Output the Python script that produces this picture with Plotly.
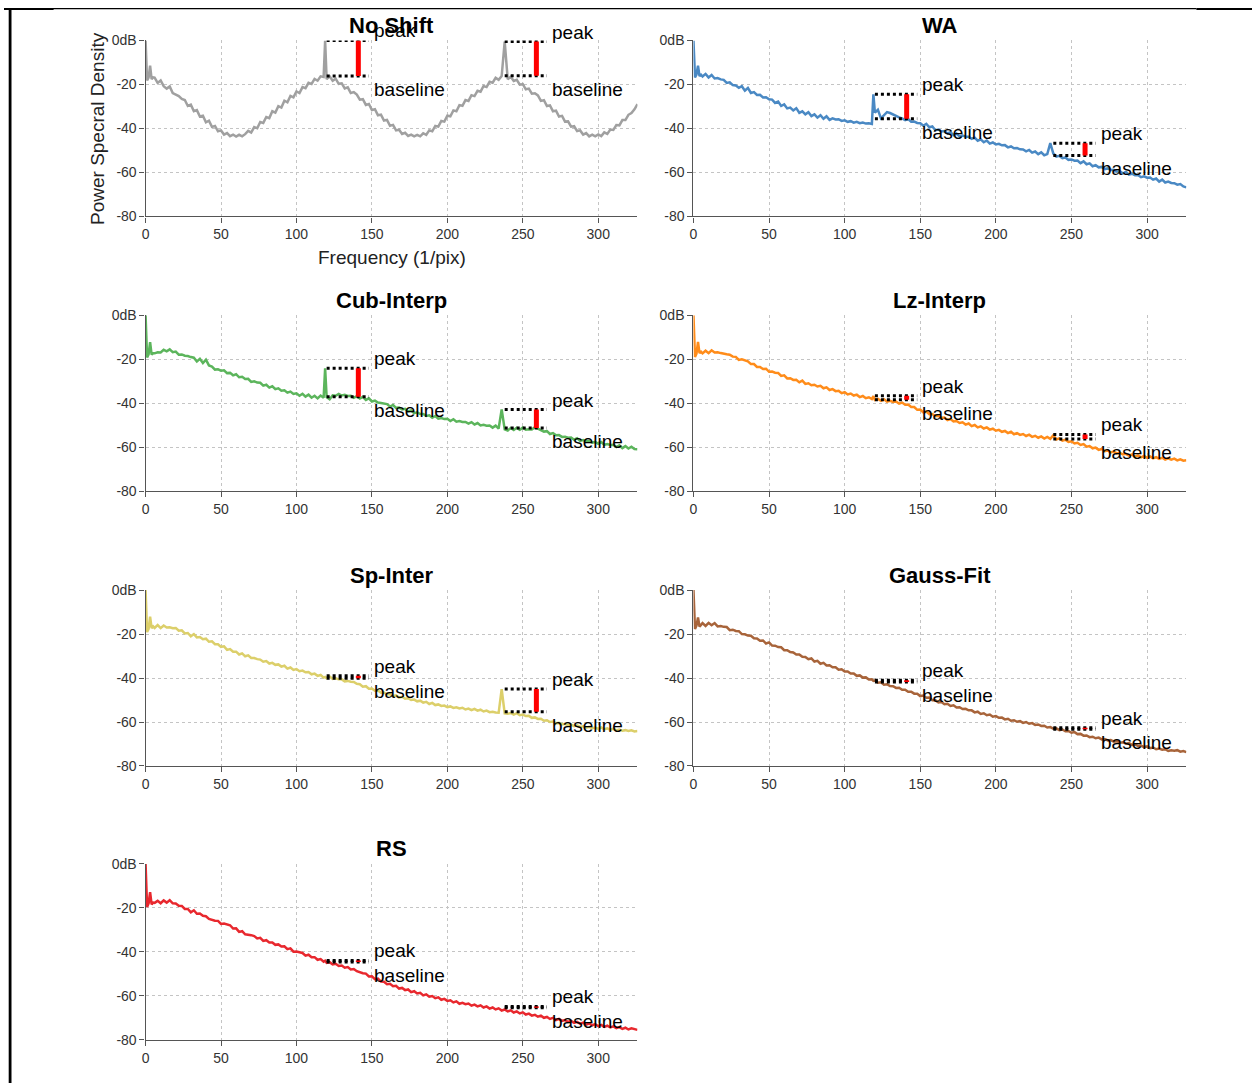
import plotly.graph_objects as go

W, H = 1252, 1091
# measured capture mapping (page px = A + S * figure px); used to place elements at target page px
AX, SX = 3.4, 0.997
AY, SY = 7.5, 0.986

# ---------------- data ----------------
FREQ = [0, 1, 2, 3, 4, 5] + list(range(6, 119, 2)) + [119] + list(range(120, 327, 2))

no_shift = [
    0, -18.2, -16.9, -11.5, -17.6, -16.8,
    -16.9, -19.3, -18.2, -20.8, -21.9, -20.9, -23.9, -24.5, -25.3, -26.6,
    -27.1, -29.8, -29.2, -32.2, -31.7, -34.6, -34.2, -37.2, -36.5, -39.3,
    -38.9, -41.3, -40.9, -42.8, -42.1, -43.5, -42.8, -43.7, -42.9, -43.6,
    -42.6, -41.1, -41.9, -39.4, -39.9, -37.1, -37.5, -34.8, -35.3, -32.2,
    -32.8, -29.9, -30.5, -27.4, -28.1, -25.2, -25.9, -23.2, -23.9, -21.2,
    -21.7, -19.3, -19.8, -17.5, -18.3, -16.3, -16.6, 0.0,
    -17.6, -16.3, -18.3, -17.4, -19.7, -19.5, -21.8, -21.3, -23.9, -23.5,
    -24.6, -26.9, -26.7, -29.3, -28.9, -31.6, -31.3, -34.0, -33.7, -36.4,
    -36.1, -38.8, -38.4, -40.9, -40.6, -42.5, -42.0, -43.4, -42.8, -43.6,
    -42.9, -43.6, -42.2, -42.9, -40.9, -41.3, -38.9, -39.2, -36.6, -36.9,
    -34.2, -34.5, -31.8, -32.2, -29.4, -29.7, -27.1, -27.5, -24.9, -25.3,
    -22.9, -23.3, -20.7, -21.2, -18.8, -19.2, -17.0, -17.9, -16.2, -0.5,
    -17.6, -16.5, -18.4, -17.9, -20.1, -19.9, -22.2, -21.9, -24.2, -24.0,
    -25.0, -27.5, -27.2, -29.8, -29.5, -32.2, -31.9, -34.6, -34.3, -36.9,
    -36.8, -39.2, -39.0, -41.2, -40.9, -42.8, -42.1, -43.6, -42.8, -43.6,
    -42.7, -43.5, -41.8, -42.5, -40.5, -40.7, -38.5, -38.6, -36.2, -36.2,
    -33.8, -33.0, -31.3, -29.0,
]

wa = [
    0, -16.8, -15.5, -11.5, -16.2, -15.6,
    -16.4, -15.2, -16.8, -15.7, -17.3, -17.1, -17.7, -17.9, -19.3, -19.0,
    -20.3, -20.5, -21.5, -20.8, -22.8, -21.6, -23.9, -23.5, -24.8, -24.7,
    -25.9, -25.8, -26.7, -26.9, -28.4, -27.8, -29.8, -29.1, -30.9, -30.5,
    -31.8, -30.8, -32.9, -32.2, -33.6, -32.6, -34.4, -33.6, -35.1, -34.0,
    -35.6, -34.5, -36.1, -35.4, -35.9, -35.8, -36.6, -36.3, -37.0, -36.7,
    -37.4, -37.0, -37.6, -37.3, -37.8, -37.7, -38.0, -24.5,
    -32.8, -31.5, -35.4, -33.8, -32.6, -33.0, -33.7, -34.3, -35.0, -35.4,
    -36.2, -35.7, -37.0, -36.9, -37.5, -37.6, -38.8, -37.9, -39.5, -39.1,
    -40.8, -40.5, -41.4, -41.2, -42.3, -41.7, -43.1, -42.3, -43.6, -43.2,
    -43.8, -43.8, -44.7, -44.2, -45.6, -45.0, -46.3, -45.5, -46.9, -46.4,
    -47.3, -47.0, -47.7, -47.6, -48.6, -48.2, -49.0, -48.9, -49.5, -49.6,
    -50.4, -49.8, -51.0, -50.5, -51.7, -50.9, -52.2, -51.7, -46.7, -51.4,
    -52.8, -52.5, -53.5, -53.2, -54.3, -54.1, -54.7, -54.6, -55.8, -55.0,
    -56.3, -55.9, -57.2, -56.7, -57.7, -57.5, -58.5, -58.2, -58.9, -58.8,
    -59.7, -59.4, -60.5, -59.7, -61.0, -60.6, -61.3, -61.2, -62.2, -61.8,
    -62.4, -62.3, -63.3, -62.8, -64.2, -63.3, -64.6, -64.2, -64.8, -64.9,
    -65.6, -65.3, -66.4, -66.8,
]

cub_interp = [
    0, -19.2, -17.8, -12.2, -17.9, -17.3,
    -17.3, -16.8, -16.9, -15.7, -16.4, -15.5, -16.8, -16.5, -17.9, -17.8,
    -18.4, -18.5, -19.0, -19.3, -21.0, -19.8, -21.7, -20.2, -22.8, -23.3,
    -24.7, -24.6, -25.2, -25.0, -26.3, -26.2, -27.3, -26.8, -28.2, -28.0,
    -29.0, -28.9, -30.3, -30.0, -30.6, -30.7, -32.0, -31.6, -32.9, -32.3,
    -33.6, -33.2, -34.3, -34.1, -35.2, -34.7, -35.8, -35.5, -36.6, -35.7,
    -37.0, -36.1, -37.5, -36.6, -37.8, -36.5, -37.5, -24.1,
    -37.2, -38.2, -36.4, -36.6, -35.8, -36.5, -36.2, -36.7, -36.6, -37.5,
    -36.8, -37.9, -37.1, -38.5, -37.8, -39.2, -38.8, -39.7, -39.9, -40.3,
    -40.4, -41.5, -40.8, -42.1, -42.0, -42.8, -42.5, -43.7, -43.3, -44.5,
    -44.1, -44.9, -44.9, -45.8, -45.5, -46.6, -45.8, -47.0, -46.7, -47.2,
    -47.1, -48.1, -47.3, -48.4, -48.1, -48.5, -48.5, -49.3, -48.6, -49.7,
    -49.0, -50.1, -49.8, -50.2, -50.1, -51.1, -50.2, -51.5, -42.8, -51.9,
    -52.4, -51.3, -52.2, -51.2, -52.1, -51.1, -52.0, -51.8, -51.9, -50.9,
    -51.6, -52.0, -52.9, -52.7, -54.0, -53.6, -54.6, -54.5, -55.3, -55.2,
    -55.7, -55.6, -56.6, -55.9, -57.1, -56.7, -57.2, -57.2, -57.9, -57.6,
    -58.5, -57.7, -58.9, -58.6, -59.0, -58.9, -59.9, -59.1, -60.4, -59.5,
    -60.6, -59.8, -60.8, -60.9,
]

lz_interp = [
    0, -19.0, -17.5, -12.1, -17.2, -16.6,
    -17.3, -16.1, -17.2, -15.9, -16.9, -16.8, -17.2, -17.3, -17.7, -17.9,
    -18.8, -18.9, -20.3, -20.0, -20.5, -20.9, -22.2, -22.2, -23.5, -23.5,
    -24.4, -24.3, -25.7, -25.6, -26.1, -26.2, -27.6, -27.3, -28.7, -28.6,
    -29.4, -29.3, -30.5, -29.7, -31.2, -30.9, -31.8, -31.6, -32.4, -32.1,
    -33.2, -32.8, -34.0, -33.6, -34.5, -34.3, -35.4, -35.0, -36.0, -35.6,
    -36.5, -36.1, -37.2, -36.7, -37.7, -37.3, -38.1, -36.8,
    -38.5, -38.0, -38.9, -38.2, -39.3, -38.9, -39.4, -39.2, -40.2, -39.7,
    -40.7, -40.6, -41.7, -41.7, -43.0, -42.9, -44.2, -43.8, -45.0, -44.9,
    -45.9, -45.7, -46.6, -46.5, -47.7, -47.2, -48.3, -48.1, -49.0, -48.7,
    -49.7, -49.2, -50.4, -49.9, -51.0, -50.5, -51.5, -51.0, -52.0, -51.6,
    -52.5, -52.1, -53.0, -52.6, -53.6, -53.0, -54.1, -53.6, -54.4, -54.0,
    -54.9, -54.3, -55.3, -54.8, -55.7, -55.1, -56.1, -55.3, -56.2, -54.6,
    -56.5, -56.0, -57.0, -56.6, -57.6, -57.3, -58.3, -58.0, -59.0, -58.6,
    -59.8, -59.5, -60.5, -60.2, -61.2, -60.8, -61.8, -61.5, -62.4, -62.0,
    -62.8, -62.5, -63.3, -63.0, -63.8, -63.3, -64.3, -63.7, -64.6, -64.0,
    -64.8, -64.2, -65.1, -64.5, -65.3, -64.8, -65.6, -65.1, -65.7, -65.2,
    -66.0, -65.5, -66.1, -65.9,
]

sp_inter = [
    0, -19.1, -17.6, -12.1, -17.3, -16.5,
    -17.2, -15.9, -17.3, -16.1, -17.0, -16.9, -17.3, -17.2, -18.5, -18.3,
    -19.7, -19.5, -21.0, -20.0, -21.5, -21.3, -22.3, -22.1, -23.5, -23.3,
    -24.6, -24.6, -25.8, -25.6, -27.2, -26.8, -28.0, -28.0, -29.3, -28.8,
    -30.1, -29.7, -30.9, -30.9, -31.4, -31.6, -32.6, -32.3, -33.4, -33.1,
    -34.0, -33.8, -34.8, -34.4, -35.7, -35.2, -36.3, -35.9, -36.9, -36.6,
    -37.4, -37.3, -38.3, -38.0, -39.0, -38.6, -39.8, -39.5,
    -40.1, -39.3, -40.4, -40.1, -40.6, -40.6, -41.5, -41.3, -41.7, -41.8,
    -42.6, -42.8, -43.9, -43.7, -44.9, -44.8, -45.8, -45.7, -46.7, -46.6,
    -47.5, -47.3, -48.2, -47.9, -48.9, -48.5, -49.4, -49.2, -50.0, -49.8,
    -50.6, -50.3, -51.2, -50.8, -51.8, -51.3, -52.3, -52.0, -52.7, -52.5,
    -53.2, -52.9, -53.6, -53.3, -53.8, -53.5, -54.3, -53.9, -54.6, -54.0,
    -54.8, -54.4, -55.2, -54.8, -55.5, -55.3, -55.7, -55.8, -45.0, -56.1,
    -56.2, -55.9, -56.6, -56.0, -56.9, -56.6, -57.3, -57.2, -58.1, -57.9,
    -58.6, -58.5, -59.4, -59.2, -60.0, -59.8, -60.6, -60.4, -61.1, -60.8,
    -61.4, -61.2, -61.9, -61.5, -62.2, -61.9, -62.6, -62.2, -62.8, -62.5,
    -63.1, -62.5, -63.3, -62.9, -63.6, -63.0, -63.8, -63.4, -64.0, -63.7,
    -64.1, -63.8, -64.3, -64.1,
]

gauss_fit = [
    0, -17.7, -16.2, -12.4, -16.6, -15.8,
    -15.0, -16.3, -14.9, -16.0, -15.0, -16.5, -16.3, -16.7, -16.8, -18.2,
    -18.0, -18.6, -18.7, -20.0, -20.1, -20.7, -20.8, -21.9, -22.0, -23.0,
    -22.9, -24.3, -23.8, -25.2, -25.3, -25.9, -26.0, -27.3, -27.3, -28.2,
    -28.4, -29.3, -29.3, -30.3, -30.4, -31.4, -31.1, -32.5, -32.2, -33.5,
    -33.1, -34.3, -34.2, -35.1, -35.1, -36.2, -36.0, -37.0, -37.0, -37.9,
    -37.9, -39.0, -38.8, -39.8, -39.7, -40.7, -40.6, -41.3,
    -41.1, -42.1, -41.9, -43.0, -42.8, -43.6, -43.7, -44.5, -44.4, -45.3,
    -45.3, -46.2, -46.2, -47.1, -47.1, -48.2, -48.0, -49.0, -48.9, -50.1,
    -50.1, -51.1, -50.9, -51.9, -51.7, -52.7, -52.4, -53.4, -53.3, -54.1,
    -54.0, -54.7, -54.7, -55.6, -55.3, -56.3, -56.0, -56.9, -56.6, -57.6,
    -57.3, -58.1, -58.0, -58.8, -58.5, -59.4, -59.2, -59.9, -59.6, -60.4,
    -60.0, -60.8, -60.5, -61.3, -61.1, -61.8, -61.7, -62.5, -62.3, -63.0,
    -62.9, -63.7, -63.4, -64.2, -64.1, -64.9, -64.6, -65.5, -65.4, -66.2,
    -66.1, -66.9, -66.7, -67.4, -67.1, -67.9, -67.7, -68.4, -68.2, -68.9,
    -68.7, -69.4, -69.2, -69.9, -69.6, -70.4, -70.2, -70.9, -70.7, -71.4,
    -71.1, -71.9, -71.6, -72.4, -72.1, -72.6, -72.4, -73.2, -72.9, -73.1,
    -72.8, -73.5, -73.2, -73.7,
]

rs = [
    0, -19.6, -18.0, -12.8, -18.4, -17.6,
    -17.7, -16.8, -17.9, -16.6, -17.6, -16.5, -17.9, -18.0, -19.0, -19.1,
    -20.5, -20.5, -22.0, -21.1, -22.7, -22.6, -23.6, -23.8, -25.0, -25.5,
    -25.8, -25.9, -27.3, -27.1, -27.5, -27.9, -29.4, -29.3, -30.9, -30.6,
    -32.0, -32.1, -32.4, -32.8, -33.9, -33.6, -35.0, -34.7, -35.7, -35.7,
    -36.8, -36.6, -37.6, -37.5, -38.8, -38.4, -39.9, -39.8, -40.0, -40.5,
    -41.7, -41.3, -42.4, -42.4, -43.6, -43.3, -44.5, -44.0,
    -45.0, -44.7, -45.7, -45.4, -46.4, -46.2, -47.2, -46.9, -48.0, -47.8,
    -48.8, -49.3, -49.7, -49.9, -51.2, -51.1, -52.4, -52.2, -53.5, -53.6,
    -54.7, -54.5, -55.6, -55.4, -56.7, -56.4, -57.4, -57.1, -58.3, -57.9,
    -58.9, -58.6, -59.8, -59.3, -60.4, -60.1, -61.1, -60.7, -61.8, -61.4,
    -62.3, -62.0, -63.0, -62.5, -63.6, -63.2, -63.8, -63.5, -64.5, -64.0,
    -64.8, -64.3, -65.3, -64.8, -65.8, -65.3, -66.2, -65.7, -66.7, -66.2,
    -67.1, -66.6, -67.6, -67.1, -68.0, -67.5, -68.5, -68.1, -69.0, -68.6,
    -69.5, -69.0, -70.0, -69.6, -70.5, -70.0, -71.0, -70.5, -71.4, -71.0,
    -71.9, -71.4, -72.3, -71.8, -72.7, -72.2, -73.1, -72.6, -73.4, -72.9,
    -73.8, -73.2, -74.1, -73.6, -74.4, -73.9, -74.7, -74.2, -75.0, -74.5,
    -75.3, -74.8, -75.2, -75.5,
]

TITLES = ["No Shift", "WA", "Cub-Interp", "Lz-Interp", "Sp-Inter", "Gauss-Fit", "RS"]
SERIES = [no_shift, wa, cub_interp, lz_interp, sp_inter, gauss_fit, rs]

# peak / baseline levels (dB) for the two harmonics of each method
PEAK_1 = [0.0, -24.5, -24.1, -36.6, -39.0, -41.0, -43.9]
BASE_1 = [-16.2, -35.6, -37.0, -38.4, -40.1, -41.8, -44.6]
PEAK_2 = [-0.5, -46.7, -42.9, -54.2, -45.0, -62.6, -64.8]
BASE_2 = [-16.0, -52.3, -51.3, -56.3, -55.3, -63.3, -65.4]

X_TICKS = [0, 50, 100, 150, 200, 250, 300]
Y_TICKS = [-80, -60, -40, -20, 0]
Y_TICK_TEXT = ["-80", "-60", "-40", "-20", "0dB"]

for s in SERIES:
    assert len(s) == len(FREQ), (len(s), len(FREQ))

# ---------------- styling ----------------
COLORS = ["#a0a0a0", "#4a89c4", "#5cb55c", "#ff8c1a", "#dccf6a", "#a8643a", "#e8282e"]
FONT = "Liberation Sans, Arial, Helvetica, sans-serif"

# target positions in page pixels
COL_PX = [(145, 637), (693, 1186)]
ROW_PX = [(40, 216), (315, 491), (590, 766), (864, 1040)]
BOX1 = (120, 148, 141)
BOX2 = (238, 266, 259)


def px_x(p):
    return ((p - AX) / SX) / W


def px_y(p):
    return 1 - ((p - AY) / SY) / H


fig = go.Figure()
layout = dict(
    width=W, height=H, margin=dict(l=0, r=0, t=0, b=0),
    paper_bgcolor="white", plot_bgcolor="white", showlegend=False,
    font=dict(family=FONT, color="#222"),
)
shapes = []
annotations = []

for i, (title, vals) in enumerate(zip(TITLES, SERIES)):
    r, c = divmod(i, 2)
    n = "" if i == 0 else str(i + 1)
    xa, ya = "x" + n, "y" + n
    x0p, x1p = COL_PX[c]
    t_px, b_px = ROW_PX[r]
    layout["xaxis" + n] = dict(
        domain=[px_x(x0p), px_x(x1p)], range=[0, 326], anchor=ya,
        tickvals=X_TICKS, showline=True, linecolor="#555", linewidth=1.3,
        ticks="outside", ticklen=5, tickcolor="#555",
        showgrid=True, gridcolor="#c4c4c4", griddash="dot", gridwidth=1,
        zeroline=False, tickfont=dict(size=14, color="#333"),
    )
    layout["yaxis" + n] = dict(
        domain=[px_y(b_px), px_y(t_px)], range=[-80, 0], anchor=xa,
        tickvals=Y_TICKS, ticktext=Y_TICK_TEXT, showline=True, linecolor="#555",
        linewidth=1.3, ticks="outside", ticklen=5, tickcolor="#555",
        showgrid=True, gridcolor="#c4c4c4", griddash="dot", gridwidth=1,
        zeroline=False, tickfont=dict(size=14, color="#333"),
    )
    fig.add_trace(go.Scatter(x=FREQ, y=vals, mode="lines", xaxis=xa, yaxis=ya,
                             line=dict(color=COLORS[i], width=2.5)))

    for (bx0, bx1, bxr), pk, bs in [(BOX1, PEAK_1[i], BASE_1[i]), (BOX2, PEAK_2[i], BASE_2[i])]:
        for lvl in (pk, bs):
            fig.add_trace(go.Scatter(x=[bx0, bx1], y=[lvl, lvl], mode="lines", xaxis=xa, yaxis=ya,
                                     line=dict(color="black", width=3, dash="dot")))
        fig.add_trace(go.Scatter(x=[bxr, bxr], y=[bs, pk], mode="lines", xaxis=xa, yaxis=ya,
                                 line=dict(color="#ff0000", width=5)))
        annotations.append(dict(x=bx1 + 2, y=pk, xref=xa, yref=ya, text="peak", showarrow=False,
                                xanchor="left", yanchor="middle", yshift=9.5,
                                font=dict(size=19, color="black", family=FONT)))
        annotations.append(dict(x=bx1 + 2, y=bs, xref=xa, yref=ya, text="baseline", showarrow=False,
                                xanchor="left", yanchor="middle", yshift=-13.4,
                                font=dict(size=19, color="black", family=FONT)))

    annotations.append(dict(x=px_x((x0p + x1p) / 2), y=px_y(t_px - 15), xref="paper", yref="paper",
                            text="<b>" + title + "</b>", showarrow=False, xanchor="center",
                            yanchor="middle", font=dict(size=22, color="black", family=FONT)))

# axis titles (first panel only)
annotations.append(dict(x=px_x(97), y=px_y(128), xref="paper", yref="paper",
                        text="Power Specral Density", textangle=-90, showarrow=False,
                        xanchor="center", yanchor="middle", font=dict(size=19, color="#222")))
annotations.append(dict(x=px_x(391), y=px_y(257), xref="paper", yref="paper",
                        text="Frequency (1/pix)", showarrow=False,
                        xanchor="center", yanchor="middle", font=dict(size=19, color="#222")))


# decorative frame (figure-pixel coordinates for the top edge, which sits at the figure border)
def fline(x0, y0, x1, y1, w):
    return dict(type="line", xref="paper", yref="paper", x0=x0 / W, x1=x1 / W,
                y0=1 - y0 / H, y1=1 - y1 / H, line=dict(color="black", width=w))


lx = (9.5 - AX) / SX
shapes += [
    fline(0, 0.7, (1196 - AX) / SX, 0.7, 1.3),
    fline(0, 1.0, (53 - AX) / SX, 1.0, 2.0),
    fline((1196 - AX) / SX, 1.0, W, 1.0, 2.0),
    fline(lx, 0, lx, H, 2.8),
]

layout["shapes"] = shapes
layout["annotations"] = annotations
fig.update_layout(**layout)
fig.write_html("out.html")
